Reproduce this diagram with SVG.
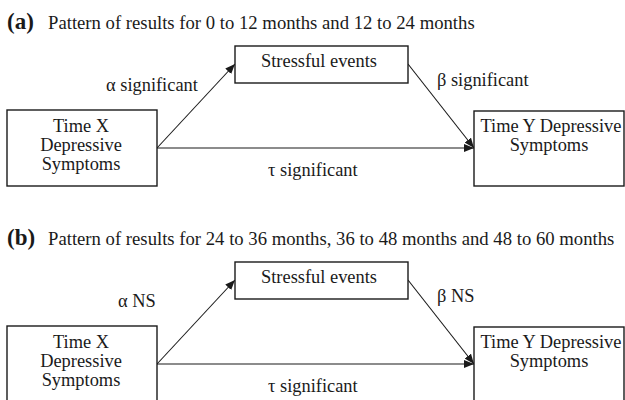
<svg xmlns="http://www.w3.org/2000/svg" width="625" height="400" viewBox="0 0 625 400">
<style>
text{font-family:"Liberation Serif","Times New Roman",serif;fill:#1a1a1a;font-size:18.4px}
.ttl{font-size:18.7px}
.hd{font-weight:bold;font-size:23px}
.mid{text-anchor:middle}
.box{fill:#fff;stroke:#1a1a1a;stroke-width:1.4}
.cn{stroke:#1a1a1a;stroke-width:1.1;fill:none;marker-end:url(#ah)}
</style>
<defs>
<marker id="ah" viewBox="0 0 10 8" refX="10" refY="4" markerWidth="10" markerHeight="8" markerUnits="userSpaceOnUse" orient="auto">
<path d="M0,0 L10,4 L0,8 Z" fill="#1a1a1a"/>
</marker>
</defs>
<g id="panel-a">
<text x="7" y="29"><tspan class="hd">(a)</tspan><tspan class="ttl" x="48">Pattern of results for 0 to 12 months and 12 to 24 months</tspan></text>
<g id="a-connectors">
<line class="cn" x1="157" y1="148" x2="235" y2="64"/>
<line class="cn" x1="408" y1="64" x2="474" y2="148"/>
<line class="cn" x1="157" y1="148" x2="474" y2="148"/>
<text x="106" y="91">α significant</text>
<text x="437" y="86">β significant</text>
<text x="268" y="176">τ significant</text>
</g>
<g id="a-timex">
<rect class="box" x="7" y="110" width="150" height="76"/>
<text class="mid" x="81" y="132">Time X</text>
<text class="mid" x="81" y="151">Depressive</text>
<text class="mid" x="81" y="170">Symptoms</text>
</g>
<g id="a-stress">
<rect class="box" x="235" y="46" width="173" height="37"/>
<text class="mid" x="319" y="67">Stressful events</text>
</g>
<g id="a-timey">
<rect class="box" x="474" y="111" width="150" height="75"/>
<text class="mid" x="551" y="132">Time Y Depressive</text>
<text class="mid" x="549" y="151">Symptoms</text>
</g>
</g>
<g id="panel-b">
<text x="7" y="245"><tspan class="hd">(b)</tspan><tspan class="ttl" x="48">Pattern of results for 24 to 36 months, 36 to 48 months and 48 to 60 months</tspan></text>
<g id="b-connectors">
<line class="cn" x1="157" y1="364" x2="235" y2="280"/>
<line class="cn" x1="408" y1="280" x2="474" y2="364"/>
<line class="cn" x1="157" y1="364" x2="474" y2="364"/>
<text x="118" y="307">α NS</text>
<text x="437" y="302">β NS</text>
<text x="268" y="392">τ significant</text>
</g>
<g id="b-timex">
<rect class="box" x="7" y="326" width="150" height="80"/>
<text class="mid" x="81" y="348">Time X</text>
<text class="mid" x="81" y="367">Depressive</text>
<text class="mid" x="81" y="386">Symptoms</text>
</g>
<g id="b-stress">
<rect class="box" x="235" y="262" width="173" height="37"/>
<text class="mid" x="319" y="283">Stressful events</text>
</g>
<g id="b-timey">
<rect class="box" x="474" y="327" width="150" height="80"/>
<text class="mid" x="551" y="348">Time Y Depressive</text>
<text class="mid" x="549" y="367">Symptoms</text>
</g>
</g>
</svg>
